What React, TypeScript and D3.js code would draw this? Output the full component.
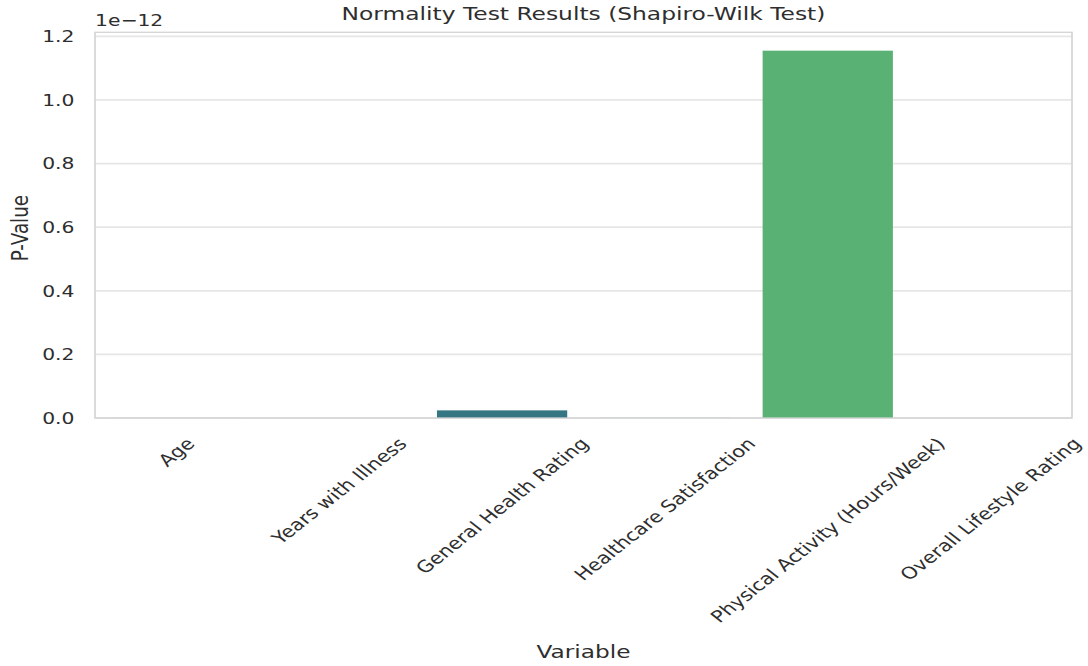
import React, { useEffect, useRef } from "react";
import * as d3 from "d3";

// ---- data (p-values, in units of 1e-12) ----
const categories = [
  "Age",
  "Years with Illness",
  "General Health Rating",
  "Healthcare Satisfaction",
  "Physical Activity (Hours/Week)",
  "Overall Lifestyle Rating",
];
const pValuesE12 = [0.0002, 0.00005, 0.024, 0.0004, 1.155, 0.0001];
const yTicks = [0, 0.2, 0.4, 0.6, 0.8, 1.0, 1.2];
const offsetLabel = "1e\u221212";
const chartTitle = "Normality Test Results (Shapiro-Wilk Test)";
const xLabel = "Variable";
const yLabel = "P-Value";

export default function App() {
  const ref = useRef<SVGSVGElement>(null);

  useEffect(() => {
    const svg = d3.select(ref.current);
    svg.selectAll("*").remove();
    const S = 1.27; // horizontal stretch of the picture
    const L = 95 / S,
      R = 1072 / S,
      T = 32.3,
      B = 418;
    const font = "'DejaVu Sans', Verdana, sans-serif";
    const textColor = "#2e2e2e";

    const g = svg.append("g").attr("transform", `scale(${S},1)`);

    const x = d3
      .scaleBand<string>()
      .domain(categories)
      .range([L, R])
      .paddingInner(0.2)
      .paddingOuter(0.1);
    const maxV = d3.max(pValuesE12) as number;
    const y = d3.scaleLinear().domain([0, maxV * 1.05]).range([B, T]);

    const palette = categories.map((_, i) => {
      const c = d3.hsl(d3.interpolateViridis((i + 1) / (categories.length + 1)));
      c.s *= 0.75;
      return c.formatHex();
    });

    // grid
    g.append("g")
      .selectAll("line")
      .data(yTicks)
      .join("line")
      .attr("x1", L)
      .attr("x2", R)
      .attr("y1", (d) => y(d))
      .attr("y2", (d) => y(d))
      .attr("stroke", "#e6e6e6")
      .attr("stroke-width", 1.8);

    // bars
    g.append("g")
      .selectAll("rect")
      .data(categories)
      .join("rect")
      .attr("x", (d) => x(d) as number)
      .attr("width", x.bandwidth())
      .attr("y", (_, i) => y(pValuesE12[i]))
      .attr("height", (_, i) => B - y(pValuesE12[i]))
      .attr("fill", (_, i) => palette[i]);

    // frame
    g.append("rect")
      .attr("x", L)
      .attr("y", T)
      .attr("width", R - L)
      .attr("height", B - T)
      .attr("fill", "none")
      .attr("stroke", "#d4d4d4")
      .attr("stroke-width", 1.3);

    // y tick labels
    g.append("g")
      .selectAll("text")
      .data(yTicks)
      .join("text")
      .attr("x", 74.5 / S)
      .attr("y", (d) => y(d))
      .attr("dy", "0.36em")
      .attr("text-anchor", "end")
      .attr("font-family", font)
      .attr("font-size", 16)
      .attr("fill", textColor)
      .text((d) => d3.format(".1f")(d));

    // offset text
    g.append("text")
      .attr("x", L)
      .attr("y", 26)
      .attr("font-family", font)
      .attr("font-size", 16)
      .attr("fill", textColor)
      .text(offsetLabel);

    // title
    g.append("text")
      .attr("x", (L + R) / 2)
      .attr("y", 20.5)
      .attr("text-anchor", "middle")
      .attr("font-family", font)
      .attr("font-size", 18.4)
      .attr("fill", textColor)
      .text(chartTitle);

    // y label
    g.append("text")
      .attr("transform", `translate(${28 / S},${(T + B) / 2 + 3}) rotate(-90)`)
      .attr("text-anchor", "middle")
      .attr("font-family", font)
      .attr("font-size", 18.3)
      .attr("fill", textColor)
      .text(yLabel);

    // x label
    g.append("text")
      .attr("x", (L + R) / 2)
      .attr("y", 658)
      .attr("text-anchor", "middle")
      .attr("font-family", font)
      .attr("font-size", 18.3)
      .attr("fill", textColor)
      .text(xLabel);

    // x tick labels, rotated 45deg, bbox centred on tick, top at y0
    const fs = 16.6;
    const lineH = 1.164 * fs;
    const y0 = 434;
    const xt = g
      .append("g")
      .selectAll("text")
      .data(categories)
      .join("text")
      .attr("text-anchor", "middle")
      .attr("dy", `${0.346}em`)
      .attr("font-family", font)
      .attr("font-size", fs)
      .attr("fill", textColor)
      .text((d) => d);
    xt.each(function (d) {
      const el = this as SVGTextElement;
      const w = el.getComputedTextLength();
      const cx = (x(d) as number) + x.bandwidth() / 2;
      const cy = y0 + (w + lineH) / (2 * Math.SQRT2);
      d3.select(el).attr("transform", `translate(${cx},${cy}) rotate(-45)`);
    });
  }, []);

  return (
    <svg
      ref={ref}
      width={1088}
      height={666}
      style={{ position: "absolute", left: 0, top: 0, background: "#ffffff" }}
    />
  );
}
